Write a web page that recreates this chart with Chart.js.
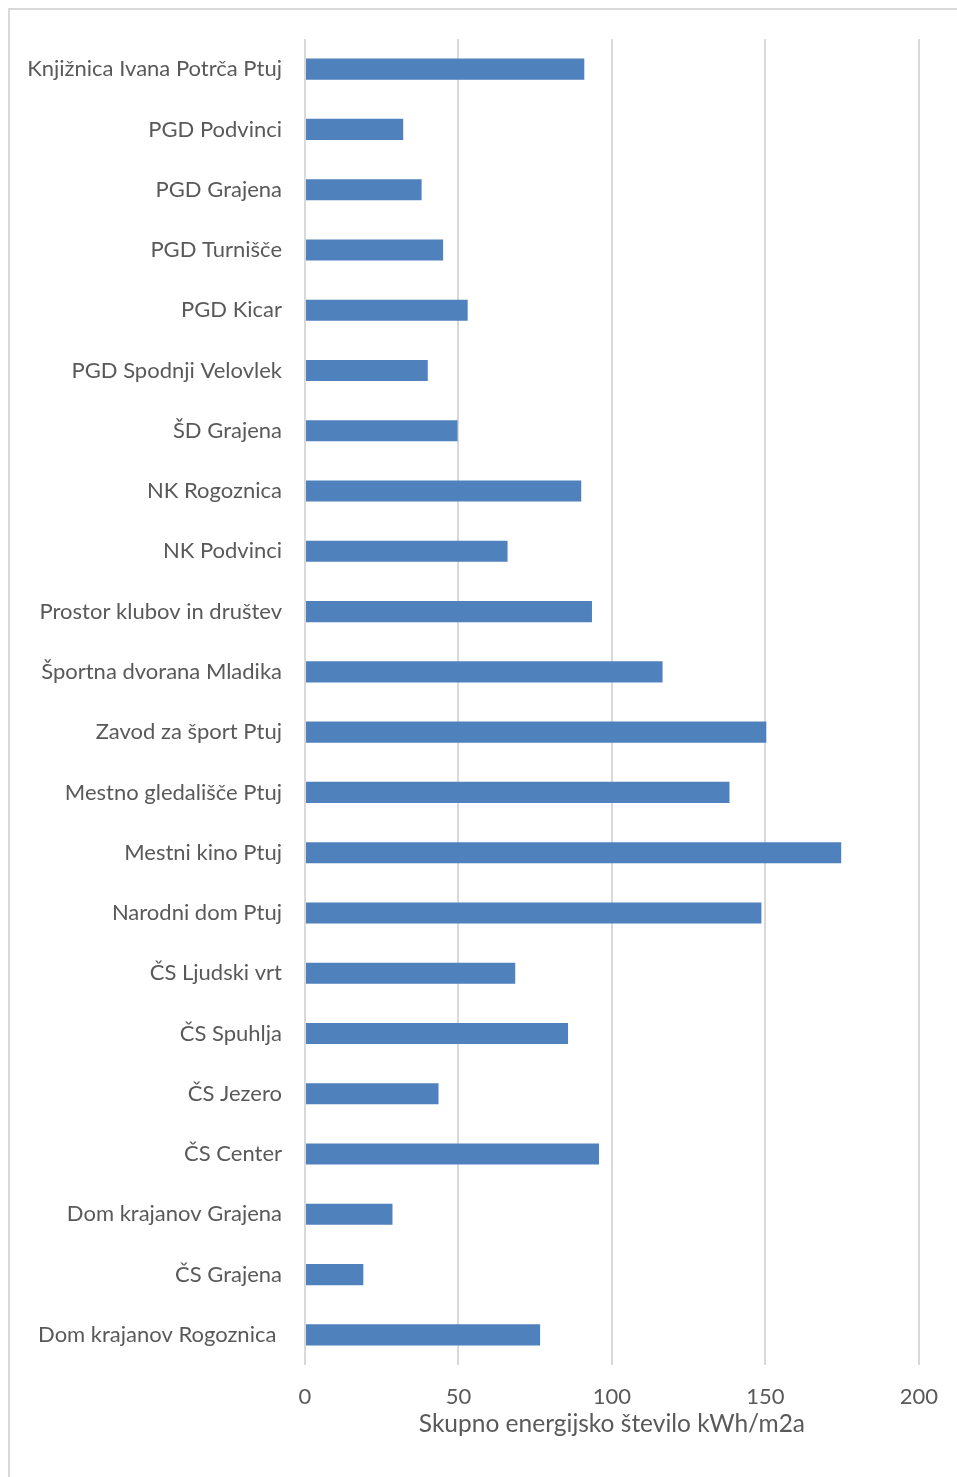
<!DOCTYPE html>
<html>
<head>
<meta charset="utf-8">
<script src="https://cdn.jsdelivr.net/npm/chart.js@4"></script>
<style>
  html, body { margin: 0; padding: 0; background: #fff; overflow: hidden; }
  #wrap { position: relative; width: 957px; height: 1477px; }
  #frame { position: absolute; left: 8px; top: 8px; width: 1000px; height: 1500px; border: 2px solid #d9d9d9; }
  canvas { position: absolute; left: 0; top: 0; }
</style>
</head>
<body>
<div id="wrap">
  <div id="frame"></div>
  <canvas id="chart" width="957" height="1477"></canvas>
</div>
<script>
// --- Data ---
const buildings = [
  "Knjižnica Ivana Potrča Ptuj", "PGD Podvinci", "PGD Grajena", "PGD Turnišče", "PGD Kicar",
  "PGD Spodnji Velovlek", "ŠD Grajena", "NK Rogoznica", "NK Podvinci", "Prostor klubov in društev",
  "Športna dvorana Mladika", "Zavod za šport Ptuj", "Mestno gledališče Ptuj", "Mestni kino Ptuj",
  "Narodni dom Ptuj", "ČS Ljudski vrt", "ČS Spuhlja", "ČS Jezero", "ČS Center",
  "Dom krajanov Grajena", "ČS Grajena", "Dom krajanov Rogoznica "
];
const energyValues = [
  91, 32, 38, 45, 53,
  40, 49.7, 90, 66, 93.5,
  116.5, 150.3, 138.3, 174.7,
  148.7, 68.5, 85.7, 43.5, 95.8,
  28.5, 19, 76.6
];
const xTicks = [0, 50, 100, 150, 200];
const axisTitle = "Skupno energijsko število kWh/m2a";

const FONT = "Lato, 'Open Sans', sans-serif";
const TEXT = '#595959';

new Chart(document.getElementById('chart').getContext('2d'), {
  type: 'bar',
  data: {
    labels: buildings,
    datasets: [{
      data: energyValues,
      backgroundColor: '#4F81BD',
      borderWidth: 0,
      categoryPercentage: 1,
      barPercentage: 0.35
    }]
  },
  options: {
    indexAxis: 'y',
    responsive: false,
    animation: false,
    layout: { padding: { top: 39, right: 34, bottom: 38, left: 0 } },
    plugins: { legend: { display: false }, tooltip: { enabled: false } },
    scales: {
      x: {
        min: 0,
        max: 200,
        afterBuildTicks: (scale) => { scale.ticks = xTicks.map(v => ({ value: v })); },
        afterFit: (scale) => { scale.height = 74; },
        grid: { color: '#d9d9d9', lineWidth: 2, drawTicks: false },
        border: { display: false },
        ticks: { color: TEXT, font: { family: FONT, size: 22 }, padding: 19 },
        title: {
          display: true,
          text: axisTitle,
          color: TEXT,
          font: { family: FONT, size: 24.5 },
          padding: { top: 0, bottom: 0 }
        }
      },
      y: {
        afterFit: (scale) => { scale.width = 305; },
        grid: { display: false, drawTicks: false },
        border: { display: false },
        ticks: { color: TEXT, font: { family: FONT, size: 22 }, padding: 23, autoSkip: false }
      }
    }
  }
});
</script>
</body>
</html>
